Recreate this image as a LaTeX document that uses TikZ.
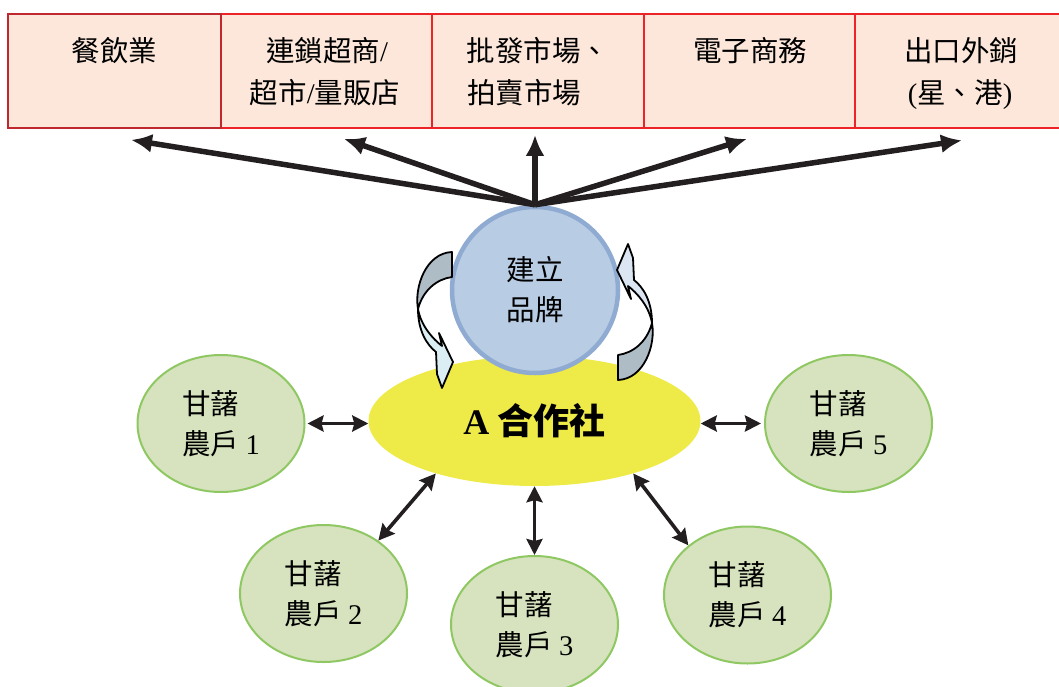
\documentclass[tikz,border=0pt]{standalone}
\usepackage{fontspec}
\setmainfont{Noto Sans CJK TC}
\newfontfamily\lat{Liberation Serif}
\usetikzlibrary{arrows.meta,shapes.geometric}

\definecolor{boxfill}{RGB}{252,231,218}
\definecolor{boxred}{RGB}{236,36,40}
\definecolor{boxdark}{RGB}{190,40,46}
\definecolor{brandfill}{RGB}{184,204,228}
\definecolor{brandline}{RGB}{143,171,210}
\definecolor{coopfill}{RGB}{238,234,72}
\definecolor{farmfill}{RGB}{214,227,190}
\definecolor{farmline}{RGB}{143,200,98}
\definecolor{ink}{RGB}{35,31,32}
\definecolor{twistgray}{RGB}{174,188,198}
\definecolor{twistcyan}{RGB}{218,238,243}
\definecolor{twistblue}{RGB}{220,230,242}

\begin{document}
\begin{tikzpicture}[x=1pt,y=-1pt,
  box/.style={draw=boxred, line width=1.8pt, fill=boxfill, minimum height=114pt, inner sep=0pt},
  lbl/.style={font=\fontsize{28.5}{34}\selectfont, inner sep=0pt, anchor=base, text=black},
  farm/.style={ellipse, draw=farmline, line width=2pt, fill=farmfill, minimum width=167pt, minimum height=137pt, inner sep=0pt, align=left, font=\fontsize{28.5}{40}\selectfont},
  big/.style={draw=ink, line width=5.5pt, -{Latex[length=21pt,width=19pt]}},
  dbl/.style={draw=ink, line width=3.6pt, {Stealth[length=16pt,width=16pt,inset=2pt]}-{Stealth[length=16pt,width=16pt,inset=2pt]}},
  twist/.style={draw=black, line width=1.8pt, line join=round},
]
\useasboundingbox (0,0) rectangle (1059,687);
\clip (0,0) rectangle (1059,687);

% top boxes
\node[box, minimum width=211pt] (b2) at (326.5,71) {};
\node[box, minimum width=212pt] (b3) at (538,71) {};
\node[box, minimum width=211pt] (b4) at (749.5,71) {};
\node[box, minimum width=211pt] (b5) at (960.5,71) {};
\node[box, draw=boxdark, minimum width=213pt] (b1) at (114.5,71) {};

\node[lbl] (t1) at (114.5,62) {餐飲業};
\node[lbl] (t2a) at (327,62) {連鎖超商{\lat /}};
\node[lbl] (t2b) at (325,103.6) {超市{\lat /}量販店};
\node[lbl] (t3a) at (538,62) {批發市場、};
\node[lbl, anchor=base west] (t3b) at (467,103.6) {拍賣市場};
\node[lbl] (t4) at (750,62) {電子商務};
\node[lbl] (t5a) at (961,62) {出口外銷};
\node[lbl] (t5b) at (960,103.6) {{\lat (}星、港{\lat )}};

% cooperative
\node[ellipse, fill=coopfill, minimum width=332pt, minimum height=130pt, inner sep=0pt,
      font=\fontsize{36}{40}\selectfont\bfseries] (coop) at (534.5,421) {{\lat\bfseries A} 合作社};

% brand circle
\node[circle, draw=brandline, line width=4.5pt, fill=brandfill, minimum size=166pt, inner sep=0pt,
      align=center, font=\fontsize{28.5}{40}\selectfont] (brand) at (535,290) {建立\\品牌};

% twisted circular arrows
\filldraw[twist, fill=twistgray] (452,252) -- (452,277) .. controls (437,279) and (423,290) .. (418,309)
   .. controls (414,287) and (426,253) .. cycle;
\filldraw[twist, fill=twistcyan] (418,309) .. controls (418,331) and (427,345) .. (436,352) -- (437,374)
   -- (442,388) -- (453,362) -- (439,333) -- (442,346) .. controls (433,339) and (421,326) .. cycle;
\begin{scope}[rotate around={180:(535,316)}]
\filldraw[twist, fill=twistgray] (452,252) -- (452,277) .. controls (437,279) and (423,290) .. (418,309)
   .. controls (414,287) and (426,253) .. cycle;
\filldraw[twist, fill=twistblue] (418,309) .. controls (418,331) and (427,345) .. (436,352) -- (437,374)
   -- (442,388) -- (453,362) -- (439,333) -- (442,346) .. controls (433,339) and (421,326) .. cycle;
\end{scope}

% farmers
\node[farm] (f1) at (221,423.5) {甘藷\\農戶 {\lat 1}};
\node[farm] (f2) at (323.5,593.5) {甘藷\\農戶 {\lat 2}};
\node[farm] (f3) at (534.5,624.5) {甘藷\\農戶 {\lat 3}};
\node[farm] (f4) at (747.5,595) {甘藷\\農戶 {\lat 4}};
\node[farm] (f5) at (848.5,423.5) {甘藷\\農戶 {\lat 5}};

% top arrows
\draw[big] (brand.north) -- ([xshift=16.5pt,yshift=-11pt]b1.south);
\draw[big] (brand.north) -- ([xshift=17.5pt,yshift=-10pt]b2.south);
\draw[big] (brand.north) -- ([xshift=-3pt,yshift=-6pt]b3.south);
\draw[big] (brand.north) -- ([xshift=-2.5pt,yshift=-10pt]b4.south);
\draw[big] (brand.north) -- ([xshift=1.5pt,yshift=-11.5pt]b5.south);

% farmer arrows
\draw[dbl, shorten <=2pt] (f1.east) -- (f1.east -| coop.west);
\draw[dbl, shorten >=3pt] (coop.east |- f5.west) -- (f5.west);
\draw[dbl] (coop.208) -- (f2.44);
\draw[dbl] (coop.south) -- (f3.north);
\draw[dbl] (coop.332) -- (f4.140);
\end{tikzpicture}
\end{document}
